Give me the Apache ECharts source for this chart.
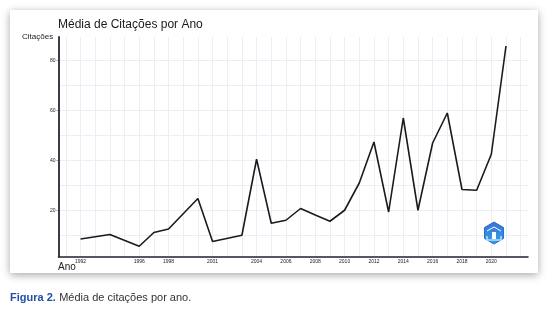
<!DOCTYPE html>
<html>
<head>
<meta charset="utf-8">
<script src="https://cdn.jsdelivr.net/npm/echarts@6/dist/echarts.min.js"></script>
<style>
html,body{margin:0;padding:0;background:#fff;}
#c{width:550px;height:309px;}
</style>
</head>
<body>
<div id="c"></div>
<script>
const years = [1992,1994,1996,1997,1998,2000,2001,2003,2004,2005,2006,2007,2008,2009,2010,2011,2012,2013,2014,2015,2016,2017,2018,2019,2020,2021];
const citations = [8.5,10.3,5.6,11.1,12.5,24.7,7.5,10,40.4,14.8,16,20.7,18.1,15.6,20,30.9,47.3,19.3,56.9,20,46.9,58.9,28.3,28,42.4,85.7];
const xTickLabels = [1992,1996,1998,2001,2004,2006,2008,2010,2012,2014,2016,2018,2020];
const xGridYears = [1991,1992,1993,1994,1995,1996,1997,1998,1999,2000,2001,2002,2003,2004,2005,2006,2007,2008,2009,2010,2011,2012,2013,2014,2015,2016,2017,2018,2019,2020,2021,2022];
const yTickLabels = [20,40,60,80];
const yGridValues = [10,20,30,40,50,60,70,80];

const chart = echarts.init(document.getElementById('c'));
const font = 'Liberation Sans, Arial, sans-serif';
chart.setOption({
  animation: false,
  backgroundColor: '#ffffff',
  graphic: [
    { type: 'rect', z: -10, shape: { x: 10, y: 10, width: 528, height: 263 },
      style: { fill: '#ffffff', shadowBlur: 8, shadowColor: 'rgba(0,0,0,0.35)', shadowOffsetY: 2 } },
    { type: 'text', left: 58, top: 19, style: { text: 'Média de Citações por Ano', font: '12px ' + font, fill: '#1a1a1a' } },
    { type: 'text', left: 22, top: 33, style: { text: 'Citações', font: '8px ' + font, fill: '#222' } },
    { type: 'text', left: 58, top: 262, style: { text: 'Ano', font: '10px ' + font, fill: '#222' } },
    { type: 'text', left: 10, top: 292, style: {
        rich: { b: { font: 'bold 11px ' + font, fill: '#1f4fa8' }, n: { font: '11px ' + font, fill: '#333' } },
        text: '{b|Figura 2.} {n|Média de citações por ano.}' } },
    { type: 'polygon', z: 10, shape: { points: [[494,222],[503.5,227.5],[503.5,238.5],[494,244],[484.5,238.5],[484.5,227.5]] },
      style: { fill: new echarts.graphic.LinearGradient(0,0,0,1,[{offset:0,color:'#3b6fd8'},{offset:1,color:'#2aa7e6'}]), stroke: '#2f6bd0', lineWidth: 1 } },
    { type: 'polyline', z: 11, shape: { points: [[487,231],[494,227],[501,231]] }, style: { stroke: '#fff', lineWidth: 1, fill: null } },
    { type: 'rect', z: 11, shape: { x: 492, y: 232, width: 4, height: 7 }, style: { fill: '#fff' } },
    { type: 'polyline', z: 11, shape: { points: [[487,236],[487,240],[501,240],[501,236]] }, style: { stroke: '#fff', lineWidth: 1, fill: null } }
  ],
  grid: { left: 58.5, right: 22, top: 37, bottom: 52.5, containLabel: false },
  xAxis: {
    type: 'value', min: 1990.5, max: 2022.5,
    axisLine: { show: true, lineStyle: { color: '#1c2233', width: 1.5 } },
    axisTick: { show: false, customValues: xGridYears },
    axisLabel: { customValues: xTickLabels, fontSize: 5, color: '#222', margin: 3, fontFamily: font, formatter: v => String(v) },
    splitLine: { show: true, lineStyle: { color: '#eaeef5', width: 1 } }
  },
  yAxis: [{
    type: 'value', min: 1.5, max: 89.3,
    axisLine: { show: true, lineStyle: { color: '#3a3d48', width: 2 } },
    axisTick: { show: false, customValues: yGridValues },
    axisLabel: { show: false },
    splitLine: { show: true, lineStyle: { color: '#eaeef5', width: 1 } }
  }, {
    type: 'value', min: 1.5, max: 89.3, position: 'left',
    axisLine: { show: false },
    axisTick: { show: true, length: 2, customValues: yTickLabels, lineStyle: { color: '#555', width: 0.6 } },
    axisLabel: { customValues: yTickLabels, fontSize: 5, color: '#222', margin: 3, fontFamily: font },
    splitLine: { show: false }
  }],
  series: [{
    type: 'line',
    data: years.map((y, i) => [y, citations[i]]),
    showSymbol: false,
    lineStyle: { color: '#1b1b1b', width: 1.6 }
  }]
});
</script>
</body>
</html>
